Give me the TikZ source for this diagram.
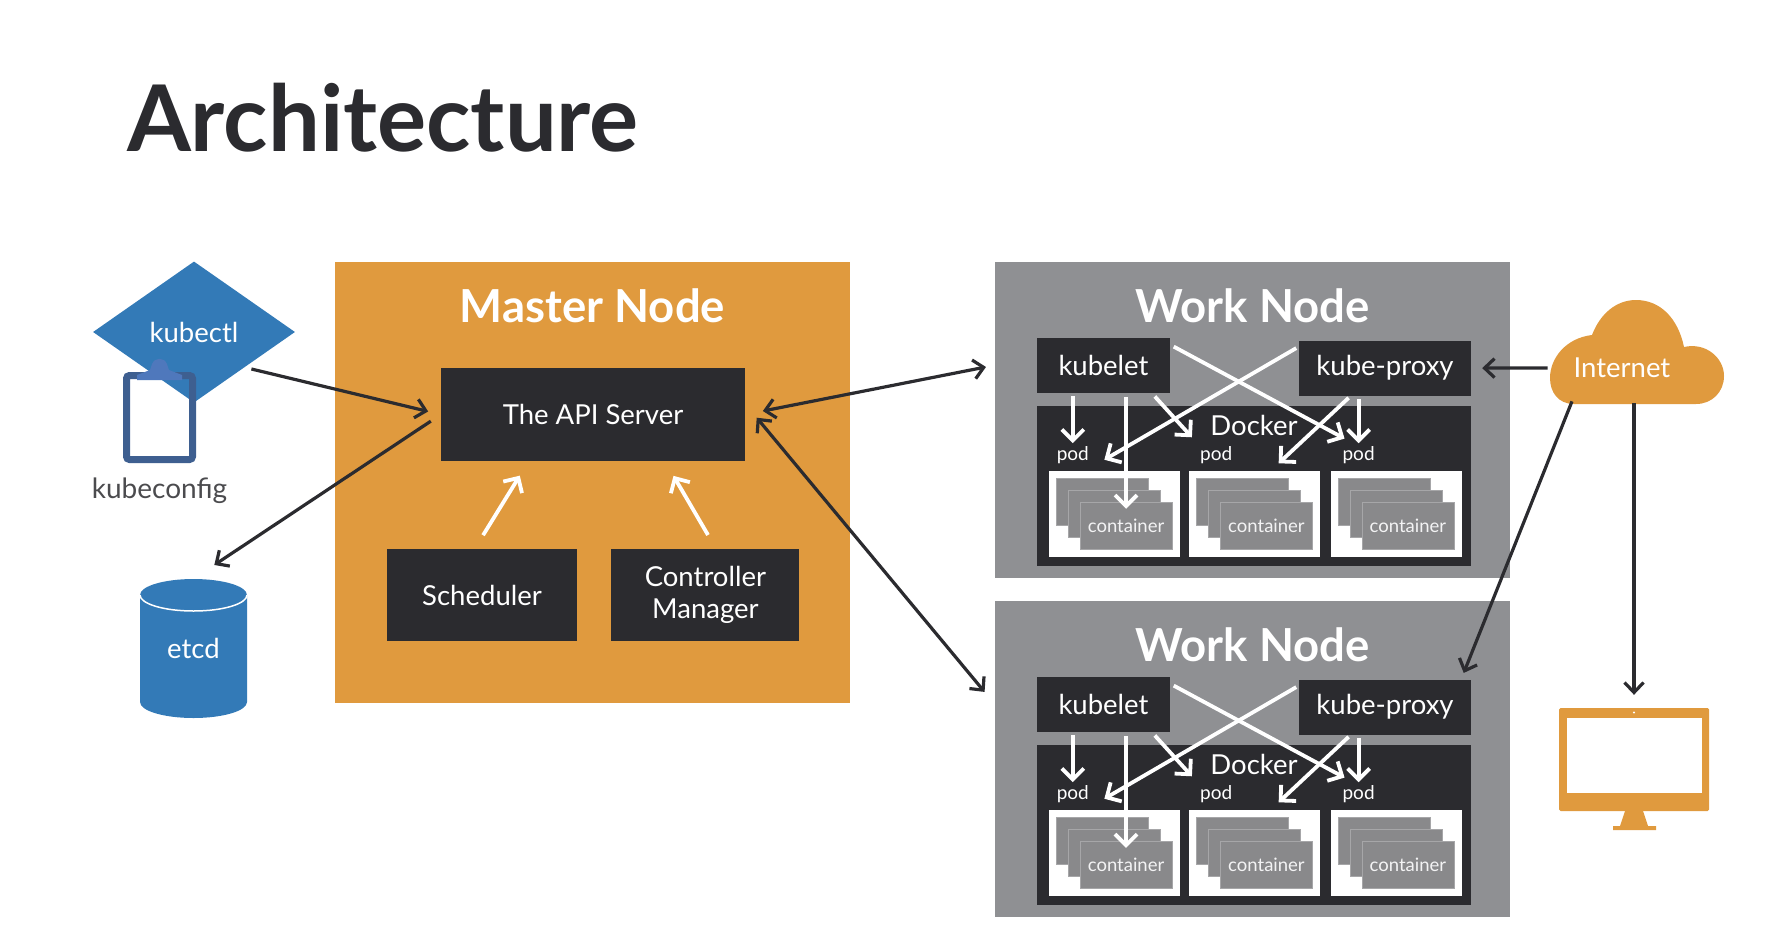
\documentclass[tikz,border=0pt]{standalone}
\usepackage{fontspec}
\setmainfont{Lato}
\usetikzlibrary{arrows.meta,positioning,calc,shapes.geometric}
\definecolor{orng}{HTML}{E09A3E}
\definecolor{wngray}{HTML}{8F9093}
\definecolor{drk}{HTML}{2B2B2F}
\definecolor{stkgray}{HTML}{89898B}
\definecolor{kblue}{HTML}{337AB7}
\definecolor{clipblue}{HTML}{3E5F90}
\definecolor{clipbar}{HTML}{4F78BC}
\newcommand{\fsz}[1]{\fontsize{#1}{32}\selectfont}

\begin{document}
\begin{tikzpicture}[
  x=1pt, y=-1pt,
  blk/.style={fill=drk, text=white, align=center, inner sep=0pt, font=\fsz{27.5}},
  hdr/.style={text=white, inner sep=0pt, font=\fsz{45.5}\bfseries},
  wnbox/.style={fill=wngray, minimum width=515pt, minimum height=316pt, inner sep=0pt},
  dockbox/.style={fill=drk, minimum width=434pt, minimum height=160pt, inner sep=0pt},
  wbox/.style={fill=white, minimum width=131pt, minimum height=86pt, inner sep=0pt},
  stk/.style={fill=stkgray, draw=white!25!stkgray, line width=0.5pt, minimum width=92pt, minimum height=47pt, inner sep=0pt, text=white!90!stkgray, font=\fsz{18.5}},
  podlbl/.style={text=white, inner sep=0pt, font=\fsz{19}},
  arr/.style={{Straight Barb[length=10pt,width=19pt]}-{Straight Barb[length=10pt,width=19pt]}, draw=drk, line width=3.2pt},
  oarr/.style={-{Straight Barb[length=10pt,width=19pt]}, draw=drk, line width=3.2pt},
  warr/.style={-{Straight Barb[length=11pt,width=22pt]}, draw=white, line width=3.8pt}
]
\useasboundingbox (0,0) rectangle (1770,946);

\node[text=drk, inner sep=0pt, font=\fontsize{92}{92}\selectfont\bfseries] (title) at (383,118) {Architecture};

\node[fill=orng, minimum width=515pt, minimum height=441pt, inner sep=0pt] (master) at (592.5,482.5) {};
\node[hdr, below=27pt of master.north] (mtitle) {Master Node};
\node[blk, minimum width=304pt, minimum height=93pt] (api) at (593,414.5) {The API Server};
\node[blk, minimum width=190pt, minimum height=92pt] (sched) at (482,595) {Scheduler};
\node[blk, minimum width=188pt, minimum height=92pt, right=34pt of sched] (ctrl) {Controller\\Manager};

\fill[white] (130,378) rectangle (189,456);
\node[diamond, fill=kblue, minimum width=202pt, minimum height=141pt, inner sep=0pt, text=white, font=\fsz{27.5}] (kubectl) at (194,332) {kubectl};
\node[draw=clipblue, line width=7pt, rounded corners=3pt, minimum width=66pt, minimum height=84pt, inner sep=0pt] (clipb) at (159.5,417.5) {};
\fill[clipbar] (137,380) -- (137,375) -- (150,370) -- (152,364) .. controls (155,357) and (164,357) .. (167,364) -- (169,370) -- (182,375) -- (182,380) -- cycle;
\node[text=drk!85!white, inner sep=0pt, font=\fsz{28}, below=15pt of clipb] (kubecfg) {kubeconfig};

\fill[kblue] (140,595) arc[start angle=180, end angle=0, x radius=53.5pt, y radius=16pt] -- (247,702) arc[start angle=0, end angle=-180, x radius=53.5pt, y radius=16pt] -- cycle;
\draw[white, line width=1.5pt] (140,595) arc[start angle=180, end angle=360, x radius=53.5pt, y radius=16pt];
\node[minimum width=107pt, minimum height=139pt, inner sep=0pt, text=white, font=\fsz{27.5}] (etcd) at (193.5,648.5) {etcd};

\foreach \n/\y in {a/420, b/759} {
  \node[wnbox] (wn\n) at (1252.5,\y) {};
  \node[hdr, below=27pt of wn\n.north] (wt\n) {Work Node};
  \node[dockbox, above=12pt of wn\n.south, xshift=1.5pt] (dock\n) {};
  \node[blk, minimum width=133pt, minimum height=55pt, above=13pt of dock\n.north west, anchor=south west] (kubelet\n) {kubelet};
  \node[blk, minimum width=172pt, minimum height=55pt, above=10pt of dock\n.north east, anchor=south east] (proxy\n) {kube-proxy};
  \node[text=white, inner sep=0pt, font=\fsz{27.5}, below=9pt of dock\n.north] (dtxt\n) {Docker};
  \node[wbox, above right=9pt and 12pt of dock\n.south west] (box1\n) {};
  \node[wbox, right=9pt of box1\n] (box2\n) {};
  \node[wbox, right=10pt of box2\n] (box3\n) {};
  \foreach \b/\dx in {1/24, 2/27, 3/28} {
    \node[stk, below right=7pt and 7pt of box\b\n.north west] (back\b\n) {};
    \node[stk, below right=19pt and 19pt of box\b\n.north west] (mid\b\n) {};
    \node[stk, below right=31pt and 31pt of box\b\n.north west] (cont\b\n) {container};
    \node[podlbl, above=7pt of box\b\n.north west, xshift=\dx pt] (pod\b\n) {pod};
  }
  \draw[warr, shorten <=3pt, shorten >=3pt] (pod1\n.north |- kubelet\n.south) -- (pod1\n.north);
  \draw[warr, shorten <=4pt, shorten >=-7pt] (cont1\n.north |- kubelet\n.south) -- (cont1\n.north);
  \draw[warr, shorten <=5pt, shorten >=12pt] (kubelet\n.-30) -- (pod2\n.north west);
  \draw[warr, shorten <=4pt, shorten >=16pt] (kubelet\n.17) -- (pod3\n.north);
  \draw[warr, shorten <=3pt, shorten >=22pt] (proxy\n.166) -- (box1\n.124);
  \draw[warr, shorten <=3pt, shorten >=11pt] (proxy\n.219) -- (box2\n.70);
  \draw[warr, shorten <=3pt, shorten >=3pt] (pod3\n.north |- proxy\n.south) -- (pod3\n.north);
}

\fill[orng] (1574,404) .. controls (1558,404) and (1550,392) .. (1550,378) .. controls (1550,358) and (1566,338) .. (1592,335)
  .. controls (1600,314) and (1616,300) .. (1636,300) .. controls (1660,300) and (1678,318) .. (1684,347)
  .. controls (1706,342) and (1724,358) .. (1724,376) .. controls (1724,392) and (1712,404) .. (1696,404) -- cycle;
\node[text=white, inner sep=0pt, font=\fsz{27.5}] (inet) at (1622,368) {Internet};

\node[fill=orng, rounded corners=1.5pt, minimum width=150pt, minimum height=103pt, inner sep=0pt] (mon) at (1634,759.5) {};
\fill[white] (1567,718) rectangle (1702,793);
\fill[white] (1634,712.5) circle (1.2pt);
\fill[orng] (1625,811) -- (1643,811) -- (1648,826) -- (1656,826) -- (1656,830) -- (1613,830) -- (1613,826) -- (1620,826) -- cycle;

\draw[oarr, shorten <=7pt, shorten >=13pt] (kubectl.south east) -- (api.west);
\draw[oarr, shorten <=12pt, shorten >=25pt] (api.west) -- (etcd.north);
\draw[arr, shorten <=18pt, shorten >=9pt] (api.east) -- (wna.168.6);
\draw[arr, shorten <=18pt, shorten >=16pt] (api.4) -- (wnb.168);
\draw[warr, shorten <=16pt, shorten >=17pt] (sched.99) -- (api.216);
\draw[warr, shorten <=16pt, shorten >=17pt] (ctrl.77) -- (api.-33);
\draw[oarr, shorten <=26pt, shorten >=11pt] (inet.west) -- (proxya.east);
\draw[oarr, shorten <=25pt, shorten >=7pt] (inet.194) -- (proxyb.20);
\draw[oarr, shorten <=25pt, shorten >=13pt] (mon.north |- inet.south) -- (mon.north);
\end{tikzpicture}
\end{document}
